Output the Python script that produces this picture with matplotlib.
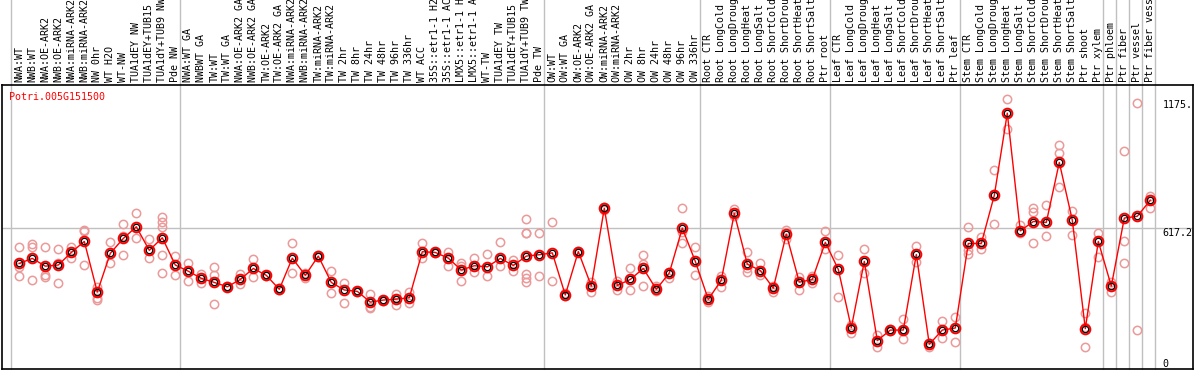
import matplotlib
matplotlib.use('Agg')
import matplotlib.pyplot as plt

gene = "Potri.005G151500"

labels = ["NWA:WT", "NWB:WT", "NWA:OE-ARK2", "NWB:OE-ARK2", "NWA:miRNA-ARK2", "NWB:miRNA-ARK2",
          "NW 0hr", "WT H2O", "WT-NW", "TUA1dEY NW", "TUA1dEY+TUB15 NW", "TUA1dY+TUB9 NW", "Pde NW",
          "NWA:WT GA", "NWBWT GA", "TW:WT", "TW:WT GA", "NWA:OE-ARK2 GA", "NWB:OE-ARK2 GA",
          "TW:OE-ARK2", "TW:OE-ARK2 GA", "NWA:miRNA-ARK2 GA", "NWB:miRNA-ARK2 GA", "TW:miRNA-ARK2",
          "TW:miRNA-ARK2 GA", "TW 2hr", "TW 8hr", "TW 24hr", "TW 48hr", "TW 96hr", "TW 336hr", "WT ACC",
          "35S::etr1-1 H2O", "35S::etr1-1 ACC", "LMX5::etr1-1 H2O", "LMX5::etr1-1 ACC", "WT-TW",
          "TUA1dEY TW", "TUA1dEY+TUB15 TW", "TUA1dY+TUB9 TW", "Pde TW",
          "OW:WT", "OW:WT GA", "OW:OE-ARK2", "OW:OE-ARK2 GA", "OW:miRNA-ARK2", "OW:miRNA-ARK2 GA",
          "OW 2hr", "OW 8hr", "OW 24hr", "OW 48hr", "OW 96hr", "OW 336hr",
          "Root CTR", "Root LongCold", "Root LongDrought", "Root LongHeat", "Root LongSalt",
          "Root ShortCold", "Root ShortDrought", "Root ShortHeat", "Root ShortSalt", "Ptr root",
          "Leaf CTR", "Leaf LongCold", "Leaf LongDrought", "Leaf LongHeat", "Leaf LongSalt",
          "Leaf ShortCold", "Leaf ShortDrought", "Leaf ShortHeat", "Leaf ShortSalt", "Ptr leaf",
          "Stem CTR", "Stem LongCold", "Stem LongDrought", "Stem LongHeat", "Stem LongSalt",
          "Stem ShortCold", "Stem ShortDrought", "Stem ShortHeat", "Stem ShortSalt", "Ptr shoot", "Ptr xylem",
          "Ptr phloem", "Ptr fiber", "Ptr vessel", "Ptr fiber vessel"]

# first index of each sample group (separator lines)
group_starts = [0, 13, 41, 53, 63, 73, 84, 85, 86, 87, 88]

means = [461, 483, 449, 454, 509, 557, 336, 505, 570, 621, 518, 573, 454,
         427, 396, 378, 359, 391, 439, 409, 348, 484, 409, 493, 378, 345, 339, 292, 301, 305,
         311, 512, 509, 484, 432, 451, 446, 483, 452, 493, 499,
         507, 323, 513, 362, 702, 365, 391, 439, 348, 419, 615, 470,
         304, 388, 679, 458, 430, 353, 589, 379, 391, 553,
         435, 180, 470, 124, 170, 170, 500, 108, 170, 179,
         548, 548, 758, 1117, 603, 644, 640, 902, 650, 176, 557,
         362, 659, 667, 737]

reps = [[531, 446, 406], [544, 534, 387], [531, 410, 403], [526, 374, 462], [534, 486],
        [609, 603, 452], [359, 308, 301], [553, 465], [631, 582, 497], [679, 570], [566, 483],
        [662, 641, 621, 497, 419], [493, 409],
        [465, 383], [416, 376], [445, 409, 282], [362, 356], [414, 371], [480, 401], [412, 406],
        [352, 343], [550, 419], [420, 396], [497, 489], [426, 330], [374, 287], [341, 337],
        [326, 272, 265], [303, 299], [327, 281], [336, 289], [551, 483], [512, 506], [509, 448],
        [465, 451, 383], [484, 423], [502, 406], [553, 448], [475, 427],
        [653, 595, 592, 416, 398, 381], [592, 404],
        [640, 383], [330, 318], [516, 510], [381, 337], [709, 700, 693], [384, 345], [439, 345],
        [496, 459, 362], [362, 340], [424, 398], [702, 596, 548], [531, 409],
        [318, 291], [407, 356], [697, 670], [509, 439, 424], [462, 409], [362, 336], [609, 566],
        [400, 343], [407, 376], [601, 526],
        [497, 313], [192, 158], [526, 420], [148, 97], [174, 166], [218, 170, 131], [537, 468],
        [115, 97], [209, 134], [226, 119],
        [618, 519, 502], [576, 526], [868, 766, 634], [1181, 1050], [628, 592], [705, 686, 548],
        [715, 580], [976, 941, 793], [690, 584], [243, 185, 96], [592, 490],
        [381, 335], [954, 561, 461], [1163, 170], [755, 705]]

ymax = 1240
mid = 617.2
top_val = 1175

mono = 'DejaVu Sans Mono'
fs = 7.2

fig = plt.figure(figsize=(11.94, 3.70), dpi=100)
ax = fig.add_axes([1.5 / 1194, 1 / 370, 1191.5 / 1194, 284 / 370])

x = list(range(len(means)))

# group separators, running up through the label area
for g in group_starts:
    ax.axvline(g - 0.64, ymin=0, ymax=1.31, color='#c0c0c0', lw=1, clip_on=False, zorder=1)
ax.axhline(mid, color='#c0c0c0', lw=1, zorder=1)

# replicate values
for i in range(len(reps)):
    ax.plot([i] * len(reps[i]), reps[i], 'o', ms=6, mfc='none', mec='#eb9999', mew=1.1, zorder=2)

ax.plot(x, means, '-', color='red', lw=1, zorder=3)
ax.plot(x, means, 'o', ms=7, mfc='none', mec='red', mew=1.4, zorder=4)
ax.plot(x, means, 'o', ms=4.6, mfc='none', mec='black', mew=0.9, zorder=5)

ax.set_xlim((1.5 - 19.3) / 13, (1193 - 19.3) / 13)
ax.set_ylim(0, ymax)

ax.xaxis.tick_top()
ax.set_xticks(x)
ax.set_xticklabels(labels, rotation=90, fontfamily=mono, fontsize=fs)
ax.tick_params(axis='x', length=0, pad=2)
ax.set_yticks([])

for s in ax.spines.values():
    s.set_color('black')
    s.set_linewidth(1.2)

ax.text(0.0065, 0.977, gene, transform=ax.transAxes, color='red', fontfamily=mono,
        fontsize=fs, ha='left', va='top')
ax.text(87.95, top_val, "1175.", fontfamily=mono, fontsize=fs, ha='left', va='top')
ax.text(87.95, mid, "617.2", fontfamily=mono, fontsize=fs, ha='left', va='top')
ax.text(87.95, 0, "0", fontfamily=mono, fontsize=fs, ha='left', va='bottom')

fig.savefig('out.png', dpi=100)
